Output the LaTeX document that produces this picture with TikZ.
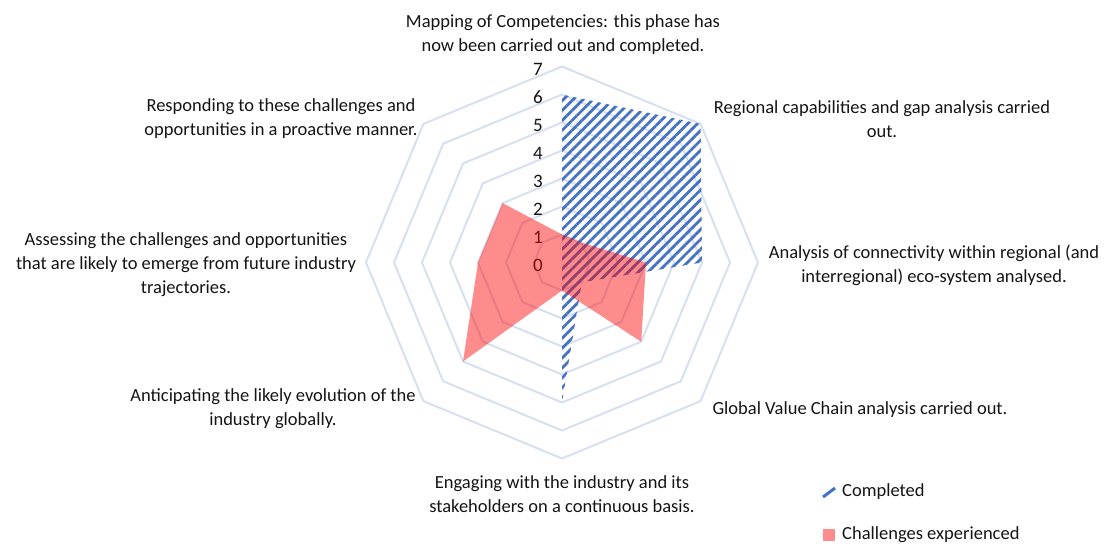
\documentclass[tikz,border=0pt]{standalone}
\usepackage{fontspec}
\setmainfont{Carlito}
\usepackage{tikz}
\usetikzlibrary{positioning}
\usetikzlibrary{patterns.meta}
\definecolor{gridblue}{RGB}{214,224,240}
\definecolor{hatchblue}{RGB}{68,114,196}
\definecolor{textgray}{RGB}{20,20,20}
\tikzstyle{gridline} = [draw=gridblue, line width=2pt]
\tikzstyle{lab} = [rectangle, draw=none, align=center, inner sep=0pt, text=textgray, font=\fontsize{18.5}{24}\selectfont]
\tikzstyle{tick} = [rectangle, draw=none, anchor=east, inner sep=0pt, text=textgray, font=\fontsize{19}{24}\selectfont]
\tikzstyle{done} = [pattern={Lines[angle=45, distance=7pt, line width=2.8pt]}, pattern color=hatchblue]
\tikzstyle{hard} = [fill=red, fill opacity=.45, draw=none]

\begin{document}
\begin{tikzpicture}[x=1pt, y=1pt]
\useasboundingbox (-562,-281.5) rectangle (545,262.5);
% grid, one octagon per level
\foreach \k in {1,...,7}
  \draw [gridline] (90:\k*28) \foreach \a in {45,0,...,-225} {-- (\a:\k*28)} -- cycle;
% scale
\foreach \k in {0,...,7}
  \node [tick] (T\k) at (-19, \k*28-2.5) {\k};
% series
\fill [done] (90:6*28) -- (45:7*28) -- (0:5*28) -- (-45:1*28) -- (-90:5*28) -- (0,0) -- cycle;
\fill [hard] (90:1*28) -- (45:1*28) -- (0:3*28) -- (-45:4*28) -- (-90:1*28) -- (-135:5*28) -- (180:3*28) -- (135:3*28) -- cycle;
% category labels
\node [lab] (Map) at (1, 228) {Mapping of Competencies: this phase has\\now been carried out and completed.};
\node [lab] (Reg) at (320, 143.5) {Regional capabilities and gap analysis carried\\out.};
\node [lab] (Con) at (372, -2.5) {Analysis of connectivity within regional (and\\interregional) eco-system analysed.};
\node [lab] (GVC) at (298, -147.5) {Global Value Chain analysis carried out.};
\node [lab] (Eng) at (0, -231.5) {Engaging with the industry and its\\stakeholders on a continuous basis.};
\node [lab] (Ant) at (-289, -146.5) {Anticipating the likely evolution of the\\industry globally.};
\node [lab] (Ass) at (-376, -2.5) {Assessing the challenges and opportunities\\that are likely to emerge from future industry\\trajectories.};
\node [lab] (Res) at (-281, 144) {Responding to these challenges and\\opportunities in a proactive manner.};
% legend
\draw [hatchblue, line width=3pt] (261,-234.5) -- (273,-225.5);
\node [lab, anchor=west] (LCom) at (280, -229.5) {Completed};
\fill [red, opacity=.45] (261,-278.5) rectangle (273,-266.5);
\node [lab, anchor=west] (LCha) at (280, -272.5) {Challenges experienced};
\end{tikzpicture}
\end{document}
